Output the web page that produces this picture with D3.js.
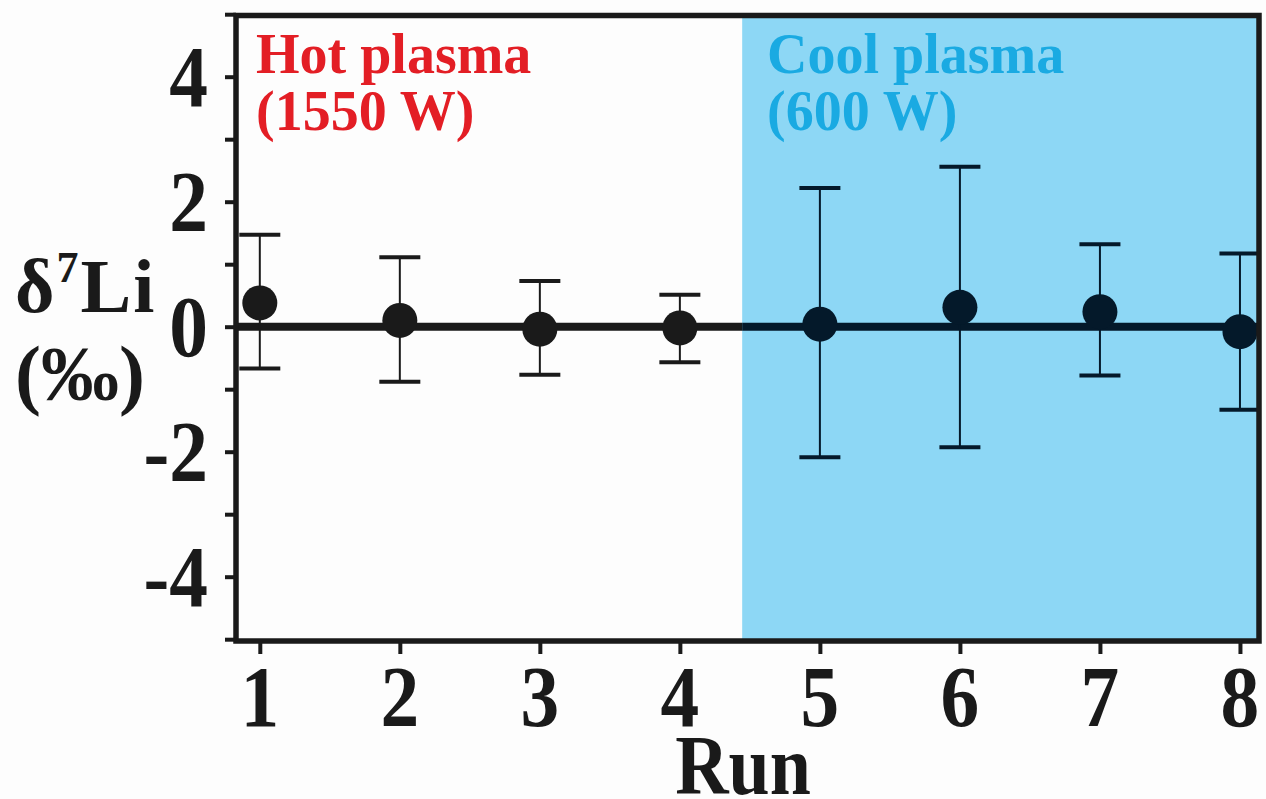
<!DOCTYPE html>
<html>
<head>
<meta charset="utf-8">
<script src="https://cdn.jsdelivr.net/npm/d3@7"></script>
<style>
  html, body { margin: 0; padding: 0; background: #fdfdfd; }
  svg { display: block; }
  text { font-family: "Liberation Serif", "Times New Roman", serif; font-weight: bold; }
</style>
</head>
<body>
<svg id="chart" width="1266" height="799"></svg>
<script>
// ---- data ----
const runs = [1, 2, 3, 4, 5, 6, 7, 8];
const delta7Li = [0.38, 0.10, -0.04, -0.02, 0.04, 0.31, 0.24, -0.08];
const errUpper = [1.47, 1.11, 0.73, 0.51, 2.22, 2.56, 1.32, 1.17];
const errLower = [-0.67, -0.88, -0.77, -0.57, -2.09, -1.93, -0.78, -1.33];
const plasma = ["hot", "hot", "hot", "hot", "cool", "cool", "cool", "cool"];
const yTicks = [-5, -4, -3, -2, -1, 0, 1, 2, 3, 4, 5];
const yTickLabels = [-4, -2, 0, 2, 4];
const xTicks = [1, 2, 3, 4, 5, 6, 7, 8];
const coolStart = 4.445;
const xDomain = [0.83, 8.136];
const yDomain = [-5, 5];
const hotLabel = ["Hot plasma", "(1550 W)"];
const coolLabel = ["Cool plasma", "(600 W)"];

// ---- layout ----
const svg = d3.select("#chart");
const x = d3.scaleLinear().domain(xDomain).range([236, 1259]);
const y = d3.scaleLinear().domain(yDomain).range([639.2, 14.2]);
const colorFor = p => p === "cool" ? "#04192a" : "#1a1a1a";
const dark = "#1a1a1a";

svg.append("rect").attr("width", 1266).attr("height", 799).attr("fill", "#fdfdfd");

// cool plasma region
svg.append("rect")
  .attr("x", x(coolStart)).attr("y", y(yDomain[1]))
  .attr("width", x(xDomain[1]) - x(coolStart))
  .attr("height", y(yDomain[0]) - y(yDomain[1]))
  .attr("fill", "#8dd7f5");

// zero line (two segments for the two regions)
svg.append("line")
  .attr("x1", x(xDomain[0])).attr("x2", x(coolStart))
  .attr("y1", y(0)).attr("y2", y(0))
  .attr("stroke", dark).attr("stroke-width", 8);
svg.append("line")
  .attr("x1", x(coolStart)).attr("x2", x(xDomain[1]))
  .attr("y1", y(0)).attr("y2", y(0))
  .attr("stroke", colorFor("cool")).attr("stroke-width", 8);

const data = runs.map((r, i) => ({ run: r, v: delta7Li[i], hi: errUpper[i], lo: errLower[i], p: plasma[i] }));

const eb = svg.append("g").selectAll("g").data(data).join("g");
eb.append("line")
  .attr("x1", d => x(d.run)).attr("x2", d => x(d.run))
  .attr("y1", d => y(d.hi)).attr("y2", d => y(d.lo))
  .attr("stroke", d => colorFor(d.p)).attr("stroke-width", 2);
["hi", "lo"].forEach(k => {
  eb.append("line")
    .attr("x1", d => x(d.run) - 20.5).attr("x2", d => x(d.run) + 20.5)
    .attr("y1", d => y(d[k])).attr("y2", d => y(d[k]))
    .attr("stroke", d => colorFor(d.p)).attr("stroke-width", 4);
});

svg.append("g").selectAll("circle").data(data).join("circle")
  .attr("cx", d => x(d.run)).attr("cy", d => y(d.v)).attr("r", 17.5)
  .attr("fill", d => colorFor(d.p));

// frame
svg.append("rect")
  .attr("x", x(xDomain[0])).attr("y", y(yDomain[1]) + 1.3)
  .attr("width", x(xDomain[1]) - x(xDomain[0]))
  .attr("height", y(yDomain[0]) - y(yDomain[1]) + 0.5)
  .attr("fill", "none").attr("stroke", dark).attr("stroke-width", 5.5);

// y axis ticks
const yAxis = d3.axisLeft(y).tickValues(yTicks).tickSize(11).tickFormat("");
const gy = svg.append("g").attr("transform", `translate(${x(xDomain[0])},0)`).call(yAxis);
gy.select(".domain").remove();
gy.selectAll(".tick line").attr("stroke", dark).attr("stroke-width", 4);

// x axis ticks
const xAxis = d3.axisBottom(x).tickValues(xTicks).tickSize(13).tickFormat("");
const gx = svg.append("g").attr("transform", `translate(0,${y(yDomain[0]) + 1.8})`).call(xAxis);
gx.select(".domain").remove();
gx.selectAll(".tick line").attr("stroke", dark).attr("stroke-width", 4);

// tick labels
svg.append("g").selectAll("text").data(yTickLabels).join("text")
  .attr("transform", d => `translate(208,${y(d) + 29}) scale(0.9,1)`)
  .attr("text-anchor", "end").attr("font-size", 86).attr("fill", dark)
  .text(d => d);
svg.append("g").selectAll("text").data(xTicks).join("text")
  .attr("transform", d => `translate(${x(d)},726) scale(0.9,1)`)
  .attr("text-anchor", "middle").attr("font-size", 86).attr("fill", dark)
  .text(d => d);

// axis titles
svg.append("text")
  .attr("transform", "translate(743,794) scale(0.88,1)")
  .attr("text-anchor", "middle").attr("font-size", 84).attr("fill", dark)
  .text("Run");

const yl = svg.append("text").attr("x", 15).attr("y", 312).attr("font-size", 76)
  .attr("letter-spacing", 2).attr("fill", dark);
yl.append("tspan").text("δ");
yl.append("tspan").attr("font-size", 44).attr("dy", -30).text("7");
yl.append("tspan").attr("dy", 30).text("Li");
svg.append("text").attr("x", 15).attr("y", 400).attr("font-size", 78).attr("fill", dark).text("(‰)");

// region labels
[[hotLabel, 256, "#e31e25"], [coolLabel, 767, "#1aaae2"]].forEach(([lines, lx, col]) => {
  svg.append("g").selectAll("text").data(lines).join("text")
    .attr("x", lx).attr("y", (d, i) => 73 + i * 57)
    .attr("font-size", 56).attr("fill", col)
    .text(d => d);
});
</script>
</body>
</html>
